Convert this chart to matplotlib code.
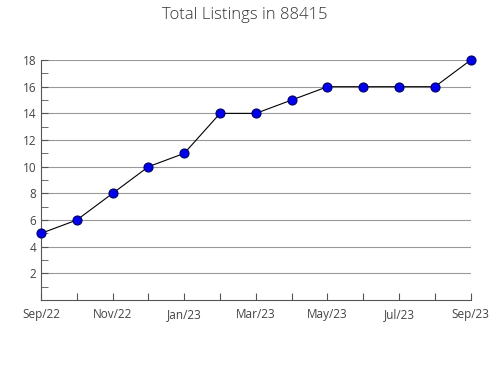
import matplotlib
matplotlib.use("Agg")
import matplotlib.pyplot as plt
from matplotlib.ticker import MultipleLocator

months = ["Sep/22", "Oct/22", "Nov/22", "Dec/22", "Jan/23", "Feb/23", "Mar/23",
          "Apr/23", "May/23", "Jun/23", "Jul/23", "Aug/23", "Sep/23"]
listings = [5, 6, 8, 10, 11, 14, 14, 15, 16, 16, 16, 16, 18]
yticks = [2, 4, 6, 8, 10, 12, 14, 16, 18]

plt.rcParams['font.family'] = ['Open Sans', 'DejaVu Sans']
fig = plt.figure(figsize=(4.9, 3.8), dpi=100)
ax = fig.add_axes([0.0837, 0.2105, 0.877, 0.6315])

x = list(range(len(months)))
ax.plot(x, listings, color="black", linewidth=0.8, marker="o", markersize=6.5,
        markerfacecolor="#0000ee", markeredgecolor="#000066", markeredgewidth=0.8,
        zorder=3, clip_on=False)

ax.set_xlim(0, len(months) - 1)
ax.set_ylim(0, 18)
ax.set_yticks(yticks)
ax.yaxis.set_minor_locator(MultipleLocator(1))
ax.set_xticks(x)
ax.set_xticklabels([m if i % 2 == 0 else "" for i, m in enumerate(months)])
ax.grid(axis="y", which="major", color="#999999", linewidth=0.8)
ax.set_axisbelow(True)
for s in ["top", "right"]:
    ax.spines[s].set_visible(False)
for s in ["left", "bottom"]:
    ax.spines[s].set_color("#555555")
    ax.spines[s].set_linewidth(0.8)
ax.tick_params(axis="both", which="both", direction="in", length=5, color="#555555",
               labelcolor="#444444", labelsize=8.5)
ax.tick_params(axis="x", pad=6)
fig.text(0.5, 1 - 15 / 380, "Total Listings in 88415", fontsize=12, color="#333333",
         ha="center", va="center", fontweight="light")
fig.savefig("out.png", dpi=100)
